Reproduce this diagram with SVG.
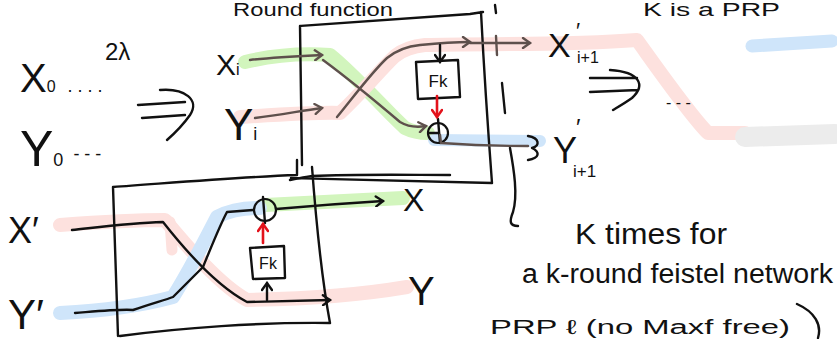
<svg xmlns="http://www.w3.org/2000/svg" width="837" height="339" viewBox="0 0 837 339">
<defs>
<style>
.t{font-family:"Liberation Sans",Arial,sans-serif;fill:#111}
.ln{fill:none;stroke:#111;stroke-width:2.4;stroke-linecap:round;stroke-linejoin:round}
.lnd{fill:none;stroke:#5e504c;stroke-width:2.4;stroke-linecap:round;stroke-linejoin:round}
.red{fill:none;stroke:#e3121b;stroke-width:2.6;stroke-linecap:round;stroke-linejoin:round}
.hl{fill:none;stroke-linecap:round;stroke-linejoin:round}
.g{stroke:#d2f5bd}
.p{stroke:#fde1de}
.b{stroke:#cfe5fa}
.gr{stroke:#ececec}
</style>
<marker id="ah" markerWidth="12" markerHeight="12" refX="9" refY="6" orient="auto" markerUnits="userSpaceOnUse">
<path d="M2,1 L9,6 L2,11" fill="none" stroke="#111" stroke-width="2.4" stroke-linecap="round"/>
</marker>
<marker id="ahd" markerWidth="12" markerHeight="12" refX="9" refY="6" orient="auto" markerUnits="userSpaceOnUse">
<path d="M2,1 L9,6 L2,11" fill="none" stroke="#5e504c" stroke-width="2.4" stroke-linecap="round"/>
</marker>
<marker id="ahr" markerWidth="12" markerHeight="12" refX="9" refY="6" orient="auto" markerUnits="userSpaceOnUse">
<path d="M2,1 L9,6 L2,11" fill="none" stroke="#e3121b" stroke-width="2.6" stroke-linecap="round"/>
</marker>
</defs>
<rect width="837" height="339" fill="#fff"/>

<!-- highlights -->
<g id="highlights">
<path class="hl g" stroke-width="14" d="M245,62 C270,56 300,53 330,55 C355,75 385,110 405,128 C415,133 422,133 428,133"/>
<path class="hl p" stroke-width="14" d="M240,117 C290,114 320,112 340,113 C360,95 380,70 395,56 C405,48 415,46 425,45 C480,43 560,46 637,40 C660,72 690,115 708,133 L745,133"/>
<path class="hl b" stroke-width="12" d="M434,140 L540,141"/>
<path class="hl gr" stroke-width="20" d="M745,137 L835,134"/>
<path class="hl b" stroke-width="13" d="M752,46 L832,41"/>
<path class="hl g" stroke-width="14" d="M265,205 L403,198"/>
<path class="hl p" stroke-width="14" d="M60,225 C100,222 140,220 165,220 C190,250 220,285 247,300 C300,299 360,295 407,287"/>
<path class="hl p" stroke-width="11" d="M170,222 L172,250"/>
<path class="hl b" stroke-width="14" d="M60,313 C100,311 140,306 173,297 C190,270 205,240 217,217 C230,210 245,208 260,208"/>
</g>

<!-- left sequence -->
<g id="sequence">
<text class="t" x="20" y="92" font-size="40">X<tspan font-size="16">0</tspan><tspan font-size="18" dx="12">. . . .</tspan></text>
<text class="t" x="105" y="60" font-size="24">2λ</text>
<text class="t" x="20" y="166" font-size="50">Y<tspan font-size="18">0</tspan><tspan font-size="18" dx="10" dy="-6">- - -</tspan></text>
<path class="ln" d="M138,105 L185,102 M142,118 L185,115 M160,90 C185,88 200,100 190,115 C183,125 175,133 167,140"/>
</g>

<!-- top round -->
<g id="round-top">
<path class="ln" d="M300,26 C360,22 420,17 470,14 L483,12 M481,12 C484,70 488,130 492,183 M291,178 C360,180 430,182 492,183 M300,26 L302,165 M495,5 L496,13"/>
<text class="t" x="216" y="75" font-size="30">X<tspan font-size="16">i</tspan></text>
<text class="t" x="224" y="140" font-size="44">Y<tspan font-size="18">i</tspan></text>
<g id="fk-top">
<path class="ln" d="M416,62 L458,60 L460,97 L418,99 Z"/>
<text class="t" x="438" y="87" font-size="17" text-anchor="middle">Fk</text>
</g>
<g id="xor-top">
<circle cx="438" cy="133" r="10" fill="none" stroke="#111" stroke-width="2.2"/>
<path class="ln" d="M438,119 L440,143 M430,133 L438,133"/>
</g>
<text class="t" x="548" y="57" font-size="34">X</text>
<text class="t" x="576" y="38" font-size="22">′</text>
<text class="t" x="577" y="63" font-size="16">i+1</text>
<text class="t" x="553" y="163" font-size="36">Y</text>
<text class="t" x="576" y="136" font-size="24">′</text>
<text class="t" x="573" y="177" font-size="17">i+1</text>
<path class="ln" d="M502,83 L505,113"/>
</g>

<!-- bottom round -->
<g id="round-bottom">
<path class="ln" d="M297,160 L297,175 M113,187 C170,183 240,177 297,175 M290,180 C300,178 305,177 312,176 C360,174 410,175 450,175 M312,167 C316,220 322,280 330,323 M120,336 C180,328 260,322 330,323 M113,187 L118,336"/>
<text class="t" x="8" y="243" font-size="36">X′</text>
<text class="t" x="8" y="329" font-size="42">Y′</text>
<text class="t" x="403" y="211" font-size="32">X</text>
<text class="t" x="408" y="305" font-size="40">Y</text>
<g id="fk-bottom">
<path class="ln" d="M250,248 L284,246 L285,278 L253,279 Z"/>
<text class="t" x="268" y="269" font-size="16" text-anchor="middle">Fk</text>
</g>
<g id="xor-bottom">
<circle cx="265" cy="210" r="11" fill="none" stroke="#111" stroke-width="2.2"/>
<path class="ln" d="M263,197 L265,223"/>
</g>
</g>

<!-- right strip -->
<g id="compact">
<path class="ln" d="M590,78 L637,78 M590,92 L638,90 M610,70 C640,72 646,85 632,98 C625,103 618,107 613,110"/>
<text class="t" x="666" y="108" font-size="16">- - -</text>
</g>

<!-- connectors -->
<g id="connectors">
<path class="lnd" d="M250,60 C275,57 300,56 322,55" marker-end="url(#ahd)"/>
<path class="lnd" d="M323,60 C350,80 380,105 400,122 C410,128 420,127 426,126" marker-end="url(#ahd)"/>
<path class="lnd" d="M255,118 C280,115 300,111 322,108" marker-end="url(#ahd)"/>
<path class="lnd" d="M337,117 C355,95 372,72 387,58 C398,49 410,46 420,45 C440,43 455,42 470,42" marker-end="url(#ahd)"/>
<path class="lnd" d="M470,43 L530,43" marker-end="url(#ahd)"/>
<path class="lnd" d="M496,36 L497,55"/>
<path class="ln" d="M440,45 L440,62" marker-end="url(#ah)"/>
<path class="red" d="M437,96 L437,117" marker-end="url(#ahr)"/>
<path class="lnd" d="M440,135 L441,143 C470,145 500,146 528,146"/>
<path class="ln" d="M528,136 C540,138 540,146 532,148 C540,152 540,158 528,160"/>
<path class="ln" d="M510,148 C514,170 518,195 513,212 C509,222 510,226 518,226"/>
<path class="ln" d="M75,313 C100,311 120,309 133,310 C150,304 165,300 173,297 C185,285 195,275 203,267 C212,245 220,225 227,212 L253,210"/>
<path class="ln" d="M72,230 C100,227 130,223 163,222 C185,250 215,285 247,302 L330,300" marker-end="url(#ah)"/>
<path class="ln" d="M276,209 C310,206 350,203 383,201" marker-end="url(#ah)"/>
<path class="ln" d="M267,300 L267,283" marker-end="url(#ah)"/>
<path class="red" d="M263,243 L263,224" marker-end="url(#ahr)"/>
</g>

<!-- notes -->
<g id="notes">
<text class="t" x="233" y="16" font-size="18" textLength="160" lengthAdjust="spacingAndGlyphs">Round function</text>
<text class="t" x="643" y="16" font-size="18" textLength="137" lengthAdjust="spacingAndGlyphs">K is a PRP</text>
<text class="t" x="575" y="244" font-size="30" textLength="152" lengthAdjust="spacingAndGlyphs">K times for</text>
<text class="t" x="522" y="283" font-size="27" textLength="311" lengthAdjust="spacingAndGlyphs">a k-round feistel network</text>
<text class="t" x="490" y="334" font-size="20" textLength="300" lengthAdjust="spacingAndGlyphs">PRP ℓ (no Maxf free)</text>
<path class="ln" d="M797,304 C815,312 822,325 818,338"/>
</g>
</svg>
